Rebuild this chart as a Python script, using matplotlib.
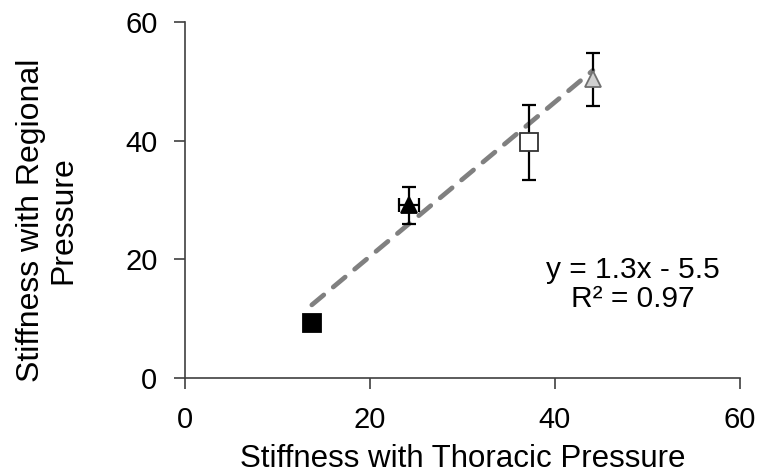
import matplotlib
matplotlib.use("Agg")
import matplotlib.pyplot as plt
import numpy as np

plt.rcParams["font.family"] = ["Liberation Sans", "DejaVu Sans"]

# stiffness values
thoracic = [13.7, 24.2, 37.2, 44.1]
regional = [9.2, 29.1, 39.7, 50.3]
thoracic_err = [0.0, 1.1, 0.0, 0.0]
regional_err = [0.0, 3.1, 6.3, 4.4]
markers = ["s", "^", "s", "^"]
faces = ["black", "black", "white", "#d0d0d0"]
edges = ["black", "black", "#333333", "#707070"]

fit_slope = 1.3
fit_intercept = -5.5
fit_r2 = 0.97

fig = plt.figure(figsize=(7.62, 4.76), dpi=100)
ax = fig.add_axes([0.243, 0.206, 0.728, 0.748])

xs = np.array([min(thoracic), max(thoracic)])
ax.plot(xs, fit_slope * xs + fit_intercept, color="#808080", linewidth=3.4,
        linestyle=(0, (3.3, 2.6)), dash_capstyle="round", zorder=2)

for x, y, xe, ye, m, fc, ec in zip(thoracic, regional, thoracic_err, regional_err,
                                   markers, faces, edges):
    ax.errorbar(x, y, xerr=xe if xe else None, yerr=ye if ye else None,
                fmt="none", ecolor="black", elinewidth=1.6, capsize=5, capthick=1.6,
                zorder=3)
    ax.plot(x, y, marker=m, markersize=12.5 if m == "s" else 12, markerfacecolor=fc,
            markeredgecolor=ec, markeredgewidth=1.3, linestyle="none", zorder=4)

# equation box, placed in pixels (baselines)
ax.text(633, 476 - 278, f"y = {fit_slope}x - {abs(fit_intercept)}", transform=None,
        fontsize=21.5, ha="center", va="baseline")
ax.text(633, 476 - 307, f"R² = {fit_r2}", transform=None, fontsize=21.5,
        ha="center", va="baseline")

ax.set_xlim(0, 60)
ax.set_ylim(0, 60)
ax.set_xticks([0, 20, 40, 60])
ax.set_yticks([0, 20, 40, 60])
ax.spines["top"].set_visible(False)
ax.spines["right"].set_visible(False)
for side in ("left", "bottom"):
    ax.spines[side].set_color("#404040")
    ax.spines[side].set_linewidth(1.2)
ax.tick_params(length=8, width=1.2, color="#404040", labelsize=21, pad=12)
ax.set_xlabel("Stiffness with Thoracic Pressure", fontsize=22.5, va="baseline")
ax.xaxis.set_label_coords(0.5, -0.25)
ax.set_ylabel("Stiffness with Regional\nPressure", fontsize=23, linespacing=1.1)
ax.yaxis.set_label_coords(-0.193, 0.444)

fig.savefig("out.png", dpi=100)
